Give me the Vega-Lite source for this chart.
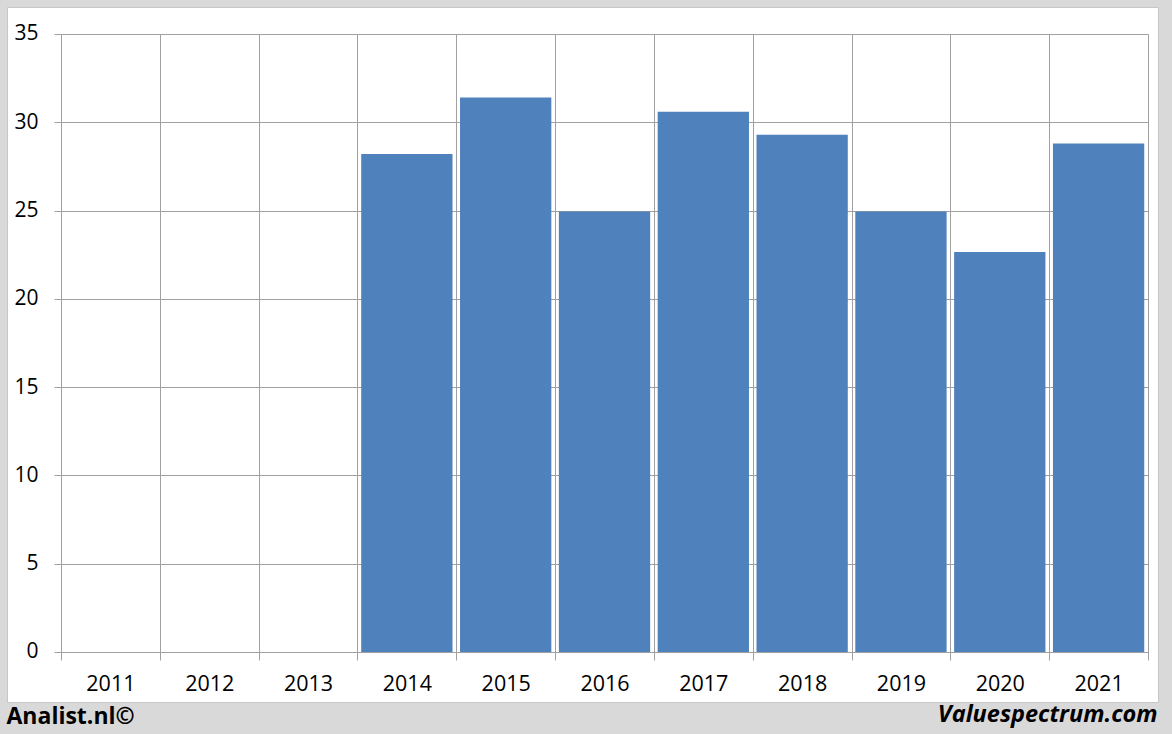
{
  "$schema": "https://vega.github.io/schema/vega-lite/v6.json",
  "width": 1151,
  "height": 695,
  "autosize": {"type": "none"},
  "padding": {"left": 7, "top": 7, "right": 14, "bottom": 32},
  "background": "#d9d9d9",
  "config": {"view": {"fill": "#ffffff", "stroke": "#c6c6c6"}, "font": "Open Sans"},
  "data": {
    "values": [
      {"year": "2014", "value": 28.2},
      {"year": "2015", "value": 31.4},
      {"year": "2016", "value": 24.95},
      {"year": "2017", "value": 30.6},
      {"year": "2018", "value": 29.3},
      {"year": "2019", "value": 24.95},
      {"year": "2020", "value": 22.65},
      {"year": "2021", "value": 28.8}
    ]
  },
  "mark": {"type": "bar", "color": "#4f81bd", "width": {"band": 0.924}},
  "encoding": {
    "x": {
      "field": "year",
      "type": "ordinal",
      "scale": {
        "domain": ["2011", "2012", "2013", "2014", "2015", "2016", "2017", "2018", "2019", "2020", "2021"],
        "paddingInner": 0,
        "paddingOuter": 0.3238,
        "align": 0.84375
      },
      "axis": {
        "orient": "bottom",
        "offset": -42,
        "tickBand": "extent",
        "tickSize": -626,
        "tickColor": "#a0a0a0",
        "tickWidth": 1,
        "domain": false,
        "grid": false,
        "labelAngle": 0,
        "labelPadding": 650.5,
        "labelBaseline": "middle",
        "labelFontSize": 21.5,
        "labelColor": "#000000",
        "title": "Analist.nl©",
        "titleX": -1,
        "titleY": 63,
        "titleAlign": "left",
        "titleBaseline": "alphabetic",
        "titleFontSize": 23,
        "titleFontWeight": "bold",
        "titleColor": "#000000"
      }
    },
    "y": {
      "field": "value",
      "type": "quantitative",
      "scale": {"domain": [-2.832, 36.529], "nice": false},
      "axis": {
        "orient": "left",
        "offset": -47,
        "values": [0, 5, 10, 15, 20, 25, 30, 35],
        "tickSize": -1094,
        "tickColor": "#a0a0a0",
        "tickWidth": 1,
        "domain": false,
        "grid": false,
        "labelPadding": 1110,
        "labelFontSize": 21,
        "labelColor": "#000000",
        "title": "Valuespectrum.com",
        "titleAngle": 0,
        "titleX": 1103,
        "titleY": 714,
        "titleAlign": "right",
        "titleBaseline": "alphabetic",
        "titleFontSize": 23.5,
        "titleFontWeight": "bold",
        "titleFontStyle": "italic",
        "titleColor": "#000000"
      }
    }
  }
}
